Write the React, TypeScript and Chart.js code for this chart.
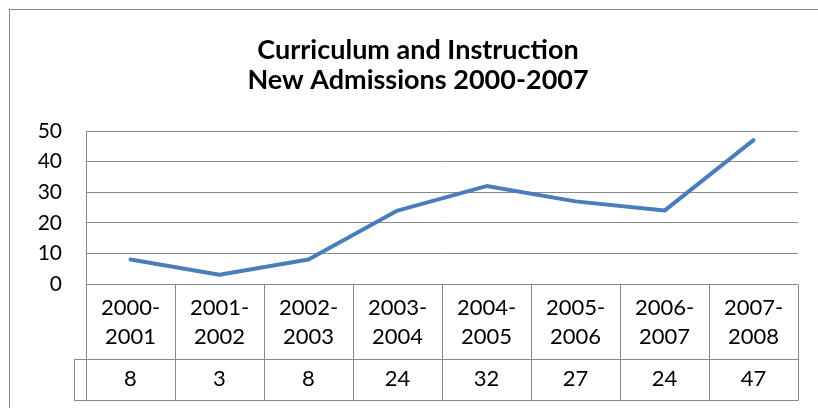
import React, { useEffect, useRef } from "react";
import { Chart, registerables } from "chart.js";

Chart.register(...registerables);

const titleLines = ["Curriculum and Instruction", "New Admissions 2000-2007"];
const categories = [
  ["2000-", "2001"],
  ["2001-", "2002"],
  ["2002-", "2003"],
  ["2003-", "2004"],
  ["2004-", "2005"],
  ["2005-", "2006"],
  ["2006-", "2007"],
  ["2007-", "2008"],
];
const admissions = [8, 3, 8, 24, 32, 27, 24, 47];
const yTicks = [0, 10, 20, 30, 40, 50];

const FONT = "Lato, 'Open Sans', sans-serif";
const GRID = "#8a8a8a";

const tablePlugin = {
  id: "dataTable",
  beforeDatasetsDraw(chart: any) {
    const { ctx, chartArea, scales } = chart;
    const x = scales.x;
    const n = categories.length;
    const w = (chartArea.right - chartArea.left) / n;
    const top = chartArea.bottom;
    const rowSplit = top + 75;
    const bottom = rowSplit + 41;
    ctx.save();
    ctx.strokeStyle = GRID;
    ctx.lineWidth = 1;
    const crisp = (v: number) => Math.round(v) + 0.5;
    ctx.beginPath();
    ctx.moveTo(chartArea.left, crisp(top));
    ctx.lineTo(chartArea.right, crisp(top));
    ctx.moveTo(chartArea.left - 12, crisp(rowSplit));
    ctx.lineTo(chartArea.right, crisp(rowSplit));
    ctx.moveTo(chartArea.left - 12, crisp(bottom));
    ctx.lineTo(chartArea.right, crisp(bottom));
    ctx.moveTo(crisp(chartArea.left - 12), crisp(rowSplit));
    ctx.lineTo(crisp(chartArea.left - 12), crisp(bottom));
    for (let i = 0; i <= n; i++) {
      const px = i < n ? x.getPixelForValue(i) - w / 2 : x.getPixelForValue(n - 1) + w / 2;
      ctx.moveTo(crisp(px), i === 0 ? chartArea.top : crisp(top));
      ctx.lineTo(crisp(px), crisp(bottom));
    }
    ctx.stroke();

    ctx.fillStyle = "#000";
    ctx.font = `22px ${FONT}`;
    ctx.textAlign = "center";
    ctx.textBaseline = "middle";
    for (let i = 0; i < n; i++) {
      const cx = x.getPixelForValue(i);
      ctx.fillText(categories[i][0], cx, top + 24);
      ctx.fillText(categories[i][1], cx, top + 53);
      ctx.fillText(String(admissions[i]), cx, rowSplit + 20);
    }
    ctx.restore();
  },
  afterDraw(chart: any) {
    const { ctx } = chart;
    ctx.save();
    ctx.strokeStyle = "#868686";
    ctx.lineWidth = 1;
    ctx.strokeRect(9.5, 9.5, 830, 420);
    ctx.fillStyle = "#000";
    ctx.font = `bold 27px ${FONT}`;
    ctx.textAlign = "center";
    ctx.textBaseline = "middle";
    ctx.fillText(titleLines[0], 418, 50);
    ctx.fillText(titleLines[1], 418, 80);
    ctx.restore();
  },
};

export default function App() {
  const ref = useRef<HTMLCanvasElement>(null);
  useEffect(() => {
    document.body.style.margin = "0";
    const chart = new Chart(ref.current!, {
      type: "line",
      data: {
        labels: categories.map((c) => c.join("")),
        datasets: [
          {
            data: admissions,
            borderColor: "#4a7ebb",
            borderWidth: 4,
            pointRadius: 0,
            tension: 0,
            borderJoinStyle: "round",
            borderCapStyle: "round",
          },
        ],
      },
      options: {
        animation: false,
        responsive: false,
        layout: { padding: { top: 131, bottom: 124, left: 0, right: 20 } },
        plugins: { legend: { display: false }, title: { display: false }, tooltip: { enabled: false } },
        scales: {
          x: { type: "category", offset: true, display: false },
          y: {
            min: 0,
            max: 50,
            afterFit: (s: any) => {
              s.width = 86;
            },
            afterBuildTicks: (s: any) => {
              s.ticks = yTicks.map((v) => ({ value: v }));
            },
            border: { display: true, color: GRID, width: 1 },
            grid: { color: GRID, lineWidth: 1, drawTicks: false },
            ticks: { color: "#000", font: { family: FONT, size: 21 }, padding: 24 },
          },
        },
      },
      plugins: [tablePlugin],
    });
    return () => chart.destroy();
  }, []);
  return (
    <div style={{ position: "fixed", left: 0, top: 0, width: 818, height: 408, background: "#fff" }}>
      <canvas ref={ref} width={818} height={408} style={{ width: 818, height: 408 }} />
    </div>
  );
}
